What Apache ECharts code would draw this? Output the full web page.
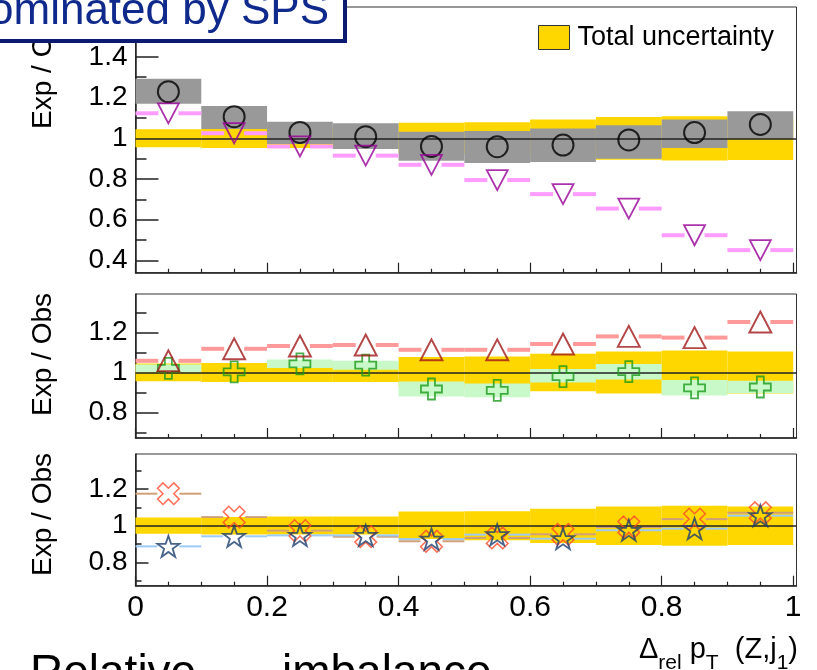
<!DOCTYPE html>
<html><head><meta charset="utf-8">
<script src="https://cdn.jsdelivr.net/npm/echarts@6/dist/echarts.min.js"></script>
<style>html,body{margin:0;padding:0;background:#fff}#c{width:817px;height:670px}</style>
</head><body><div id="c"></div>
<script>
// ---------- data ----------
const binEdges = [0, 0.1, 0.2, 0.3, 0.4, 0.5, 0.6, 0.7, 0.8, 0.9, 1.0];
// Total uncertainty band (shared by all panels)
const totalUncLow  = [0.956, 0.952, 0.952, 0.952, 0.927, 0.921, 0.906, 0.895, 0.891, 0.894];
const totalUncHigh = [1.045, 1.047, 1.050, 1.050, 1.077, 1.079, 1.093, 1.105, 1.109, 1.105];
// Top panel
const circleRatio   = [1.229, 1.106, 1.029, 1.008, 0.960, 0.959, 0.967, 0.992, 1.028, 1.068];
const circleUncLow  = [1.170, 1.046, 0.972, 0.948, 0.890, 0.879, 0.884, 0.900, 0.952, 0.998];
const circleUncHigh = [1.292, 1.159, 1.082, 1.074, 1.032, 1.036, 1.048, 1.064, 1.093, 1.133];
const downTriRatio  = [1.123, 1.025, 0.960, 0.915, 0.870, 0.795, 0.726, 0.655, 0.524, 0.451];
// Middle panel
const upTriRatio    = [1.058, 1.118, 1.132, 1.137, 1.113, 1.113, 1.142, 1.180, 1.174, 1.252];
const crossRatio    = [1.020, 1.003, 1.043, 1.036, 0.917, 0.910, 0.979, 1.004, 0.923, 0.927];
const crossUncLow   = [1.000, 1.003, 1.022, 1.013, 0.880, 0.876, 0.950, 0.964, 0.885, 0.896];
const crossUncHigh  = [1.040, 1.003, 1.064, 1.058, 0.955, 0.945, 1.017, 1.042, 0.962, 0.958];
// Bottom panel
const xMarkRatio    = [1.175, 1.047, 0.973, 0.940, 0.915, 0.933, 0.953, 0.993, 1.036, 1.071];
const starRatio     = [0.887, 0.942, 0.947, 0.947, 0.927, 0.951, 0.929, 0.975, 0.984, 1.055];
// reference level
const refLevel = 1;
// ticks
const xTickLabels = [0, 0.2, 0.4, 0.6, 0.8, 1];
const xMinorTicks = [0.05, 0.1, 0.15, 0.25, 0.3, 0.35, 0.45, 0.5, 0.55, 0.65, 0.7, 0.75, 0.85, 0.9, 0.95];
const yTopMajor = [0.4, 0.6, 0.8, 1, 1.2, 1.4];
const yTopMinor = [0.5, 0.7, 0.9, 1.1, 1.3, 1.5];
const ySubMajor = [0.8, 1, 1.2];
const ySubMinor = [0.7, 0.9, 1.1, 1.3];
const texts = {
  legend: 'Total uncertainty',
  yTitle: 'Exp / Obs',
  box: 'Dominated by SPS',
  bottom1: 'Relative',
  bottom2: 'imbalance'
};

// ---------- layout ----------
const FONT = '"Liberation Sans", Arial, Helvetica, sans-serif';
const X_RANGE = [0, 1.005];
const panels = [
  { top: 7,   height: 265.7, y: [0.34, 1.645], major: yTopMajor, minor: yTopMinor, tMaj: 23, tMin: 11 },
  { top: 294, height: 144,   y: [0.672, 1.392], major: ySubMajor, minor: ySubMinor, tMaj: 23, tMin: 11 },
  { top: 454, height: 131.7, y: [0.672, 1.392], major: ySubMajor, minor: ySubMinor, tMaj: 13, tMin: 6 }
];
const GL = 135.5, GW = 661;

const nb = binEdges.length - 1;
const idx = Array.from({length: nb}, (_, i) => i);
const bandData = (lo, hi) => idx.map(i => [binEdges[i], binEdges[i + 1], lo[i], hi[i]]);
const lineData = (v) => idx.map(i => [binEdges[i], binEdges[i + 1], v[i]]);
const ptData = (v) => idx.map(i => [(binEdges[i] + binEdges[i + 1]) / 2, v[i]]);

function bandRender(color) {
  return function (params, api) {
    const p0 = api.coord([api.value(0), api.value(3)]);
    const p1 = api.coord([api.value(1), api.value(2)]);
    return { type: 'rect', shape: { x: p0[0], y: p0[1], width: p1[0] - p0[0], height: p1[1] - p0[1] },
             style: { fill: color } };
  };
}
function gapLineRender(color, lw, gap) {
  return function (params, api) {
    const v = api.value(2);
    const a = api.coord([api.value(0), v]);
    const b = api.coord([api.value(1), v]);
    const c = (a[0] + b[0]) / 2;
    return { type: 'group', children: [
      { type: 'rect', shape: { x: a[0], y: a[1] - lw / 2, width: c - gap - a[0], height: lw }, style: { fill: color } },
      { type: 'rect', shape: { x: c + gap, y: a[1] - lw / 2, width: b[0] - c - gap, height: lw }, style: { fill: color } }
    ]};
  };
}
const refLine = {
  silent: true, symbol: 'none', label: { show: false }, animation: false,
  lineStyle: { color: '#222', width: 1.5, type: 'solid' },
  emphasis: { disabled: true },
  data: [{ yAxis: refLevel }]
};

const grids = [], xAxes = [], yAxes = [];
panels.forEach((p, i) => {
  grids.push({ left: GL, width: GW, top: p.top, height: p.height, show: true, borderColor: '#333', borderWidth: 1, backgroundColor: 'transparent' });
});
panels.forEach((p, i) => {
  grids.push({ left: GL, width: GW, top: p.top, height: p.height, show: false });
});
panels.forEach((p, i) => {
  xAxes.push({ gridIndex: i, type: 'value', min: X_RANGE[0], max: X_RANGE[1],
    axisLine: { show: true, lineStyle: { color: '#222', width: 1.5 } }, splitLine: { show: false },
    axisTick: { show: true, inside: true, length: 10, customValues: xTickLabels, lineStyle: { color: '#222', width: 1.2 } },
    axisLabel: { show: i === 2, customValues: xTickLabels, fontSize: 30, margin: 7, color: '#000', fontFamily: FONT, formatter: v => String(v) } });
  yAxes.push({ gridIndex: i, type: 'value', min: p.y[0], max: p.y[1],
    axisLine: { show: true, lineStyle: { color: '#222', width: 1.5 } }, splitLine: { show: false },
    axisTick: { show: true, inside: true, length: p.tMaj, customValues: p.major, lineStyle: { color: '#222', width: 1.5 } },
    axisLabel: { show: true, customValues: p.major, fontSize: 28, margin: 8, color: '#000', fontFamily: FONT, formatter: v => String(v) } });
});
panels.forEach((p, i) => {
  xAxes.push({ gridIndex: 3 + i, type: 'value', min: X_RANGE[0], max: X_RANGE[1],
    axisLine: { show: false }, splitLine: { show: false }, axisLabel: { show: false },
    axisTick: { show: true, inside: true, length: 4, customValues: xMinorTicks, lineStyle: { color: '#222', width: 1.2 } } });
  yAxes.push({ gridIndex: 3 + i, type: 'value', min: p.y[0], max: p.y[1],
    axisLine: { show: false }, splitLine: { show: false }, axisLabel: { show: false },
    axisTick: { show: true, inside: true, length: p.tMin, customValues: p.minor, lineStyle: { color: '#222', width: 1.5 } } });
});

const hollow = (c, w) => ({ color: 'rgba(0,0,0,0)', borderColor: c, borderWidth: w });
const plusPath = 'path://M1,0L2,0L2,1L3,1L3,2L2,2L2,3L1,3L1,2L0,2L0,1L1,1Z';
const starPath = 'path://M50,2L61.8,36.2L97.6,36.2L68.5,57.6L79.4,92L50,71L20.6,92L31.5,57.6L2.4,36.2L38.2,36.2Z';
const YELLOW = '#ffd700';

const series = [];
panels.forEach((p, i) => {
  series.push({ type: 'custom', name: texts.legend, xAxisIndex: i, yAxisIndex: i, z: 1, silent: true,
    itemStyle: { color: YELLOW }, renderItem: bandRender(YELLOW), data: bandData(totalUncLow, totalUncHigh) });
});
// top panel
series.push({ type: 'custom', name: 'circleUnc', xAxisIndex: 0, yAxisIndex: 0, z: 2, silent: true,
  renderItem: bandRender('#999999'), data: bandData(circleUncLow, circleUncHigh) });
series.push({ type: 'custom', name: 'downTriLine', xAxisIndex: 0, yAxisIndex: 0, z: 3, silent: true,
  renderItem: gapLineRender('#ff9cff', 4, 10), data: lineData(downTriRatio), markLine: refLine });
series.push({ type: 'scatter', name: 'circle', xAxisIndex: 0, yAxisIndex: 0, z: 5, silent: true,
  symbol: 'circle', symbolSize: 21, itemStyle: hollow('#000', 2), data: ptData(circleRatio) });
series.push({ type: 'scatter', name: 'downTri', xAxisIndex: 0, yAxisIndex: 0, z: 5, silent: true,
  symbol: 'triangle', symbolRotate: 180, symbolSize: [21, 20], itemStyle: hollow('#990099', 1.8), data: ptData(downTriRatio) });
// middle panel
series.push({ type: 'custom', name: 'crossUnc', xAxisIndex: 1, yAxisIndex: 1, z: 2, silent: true,
  renderItem: bandRender('#c9f8c9'), data: bandData(crossUncLow, crossUncHigh) });
series.push({ type: 'custom', name: 'upTriLine', xAxisIndex: 1, yAxisIndex: 1, z: 3, silent: true,
  renderItem: gapLineRender('#ff9a9a', 4, 10), data: lineData(upTriRatio), markLine: refLine });
series.push({ type: 'scatter', name: 'cross', xAxisIndex: 1, yAxisIndex: 1, z: 5, silent: true,
  symbol: plusPath, symbolSize: [21, 21], itemStyle: hollow('#1a9a1a', 1.8), data: ptData(crossRatio) });
series.push({ type: 'scatter', name: 'upTri', xAxisIndex: 1, yAxisIndex: 1, z: 5, silent: true,
  symbol: 'triangle', symbolSize: [22, 21], itemStyle: hollow('#a01818', 1.9), data: ptData(upTriRatio) });
// bottom panel
series.push({ type: 'custom', name: 'xLine', xAxisIndex: 2, yAxisIndex: 2, z: 3, silent: true,
  renderItem: gapLineRender('#d0a078', 2, 11), data: lineData(xMarkRatio), markLine: refLine });
series.push({ type: 'custom', name: 'starLine', xAxisIndex: 2, yAxisIndex: 2, z: 3, silent: true,
  renderItem: gapLineRender('#9ccbf5', 2, 11), data: lineData(starRatio) });
series.push({ type: 'scatter', name: 'xMark', xAxisIndex: 2, yAxisIndex: 2, z: 5, silent: true,
  symbol: plusPath, symbolRotate: 45, symbolSize: [23, 23], itemStyle: hollow('#ff4a2a', 1.5), data: ptData(xMarkRatio) });
series.push({ type: 'scatter', name: 'star', xAxisIndex: 2, yAxisIndex: 2, z: 6, silent: true,
  symbol: starPath, symbolSize: [22, 21], itemStyle: hollow('#1c3f6e', 1.8), data: ptData(starRatio) });

const graphic = [
  // y titles
  ...panels.map(p => ({ type: 'text', x: 43, y: p.top - 1, rotation: Math.PI / 2, z: 50,
    style: { text: texts.yTitle, fontSize: 28, fontFamily: FONT, fill: '#000', align: 'right', verticalAlign: 'middle' } })),
  // x title
  { type: 'text', x: 798, y: 626, z: 50,
    style: { text: '{m|Δ}{s|rel}{m| p}{s|T}{m|  (Z,j}{s|1}{m|)}', align: 'right', verticalAlign: 'top',
      rich: { m: { fontSize: 29, fontFamily: FONT, fill: '#000', lineHeight: 48, verticalAlign: 'middle' },
              s: { fontSize: 21, fontFamily: FONT, fill: '#000', lineHeight: 48, verticalAlign: 'bottom' } } } },
  // bottom cut text
  { type: 'text', x: 30, y: 651, z: 50, style: { text: texts.bottom1, fontSize: 46, fontFamily: FONT, fill: '#000', verticalAlign: 'top' } },
  { type: 'text', x: 282, y: 651, z: 50, style: { text: texts.bottom2, fontSize: 46, fontFamily: FONT, fill: '#000', verticalAlign: 'top' } },
  // title box
  { type: 'rect', z: 100, shape: { x: -10, y: -10, width: 355, height: 51 },
    style: { fill: '#fff', stroke: '#0c1a72', lineWidth: 4 } },
  { type: 'text', z: 101, x: 329, y: 12,
    style: { text: texts.box, fontSize: 44, fontFamily: FONT, fill: '#0f2a8c', align: 'right', verticalAlign: 'middle' } }
];

const chart = echarts.init(document.getElementById('c'), null, { renderer: 'canvas' });
chart.setOption({
  animation: false,
  backgroundColor: '#fff',
  textStyle: { fontFamily: FONT },
  grid: grids, xAxis: xAxes, yAxis: yAxes, series: series, graphic: graphic,
  legend: { show: true, left: 538, top: 24, padding: 0, itemWidth: 31, itemHeight: 24, selectedMode: false,
    textStyle: { fontSize: 27, color: '#000', fontFamily: FONT, padding: [0, 0, 0, 3] },
    data: [{ name: texts.legend, icon: 'rect', itemStyle: { color: YELLOW, borderColor: '#333', borderWidth: 1 } }] }
});
</script></body></html>
